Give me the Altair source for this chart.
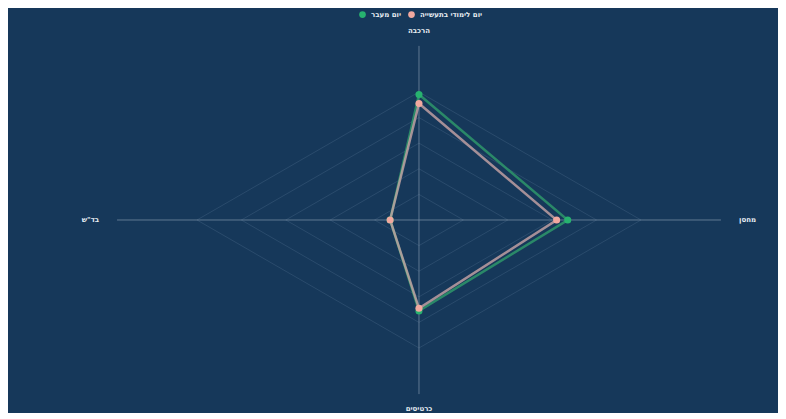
import altair as alt
import pandas as pd

# ---- data ----
categories = ["הרכבה", "מחסן", "כרטיסים", 'בד"ש']
series_names = ["יום מעבר", "יום לימודי בתעשייה"]
green_values = [0.98, 0.67, 0.71, 0.13]
pink_values = [0.91, 0.62, 0.69, 0.13]
grid_levels = [0.2, 0.4, 0.6, 0.8, 1.0]

colors = ["#27b26f", "#f2a89f"]
line_colors = ["#2f9c6c", "#c9a5a6"]

# ---- build tables ----
rows = []
for name, vals in zip(series_names, [green_values, pink_values]):
    for i in range(len(categories) + 1):
        k = i % len(categories)
        rows.append({"series": name, "category": categories[k], "idx": i, "value": vals[k]})
series_df = pd.DataFrame(rows)
pts_df = series_df[series_df["idx"] < len(categories)]

grid_rows = []
for lv in grid_levels:
    for i in range(len(categories) + 1):
        grid_rows.append({"level": lv, "idx": i, "value": lv})
grid_df = pd.DataFrame(grid_rows)

axis_df = pd.DataFrame({"category": categories, "idx": list(range(len(categories)))})

ang = "2*PI*datum.idx/4"
xs = alt.Scale(domain=[-1.851, 1.617], nice=False, zero=False)
ys = alt.Scale(domain=[-1.492, 1.656], nice=False, zero=False)
X = lambda f: alt.X(f, type="quantitative", scale=xs, axis=None)
Y = lambda f: alt.Y(f, type="quantitative", scale=ys, axis=None)

grid = alt.Chart(grid_df).transform_calculate(
    px=f"datum.value*sin({ang})", py=f"datum.value*cos({ang})"
).mark_line(color="#3a5a7a", strokeWidth=0.8, opacity=0.7).encode(
    x=X("px"), y=Y("py"), detail="level:N", order="idx:Q"
)

axes = alt.Chart(axis_df).transform_calculate(
    x0="0", y0="0",
    px=f"1.36*sin({ang})", py=f"1.36*cos({ang})"
).mark_rule(color="#7d93a8", strokeWidth=0.9, opacity=0.8).encode(
    x=X("x0"), y=Y("y0"), x2="px:Q", y2="py:Q"
)

labels = alt.Chart(axis_df).transform_calculate(
    px=f"1.48*sin({ang})", py=f"1.48*cos({ang})"
).mark_text(color="#e8eef4", fontSize=7, font="DejaVu Sans", fontWeight="bold").encode(
    x=X("px"), y=Y("py"), text="category:N"
)

line_scale = alt.Scale(domain=series_names, range=line_colors)
color_scale = alt.Scale(domain=series_names, range=colors)

lines = alt.Chart(series_df).transform_calculate(
    px=f"datum.value*sin({ang})", py=f"datum.value*cos({ang})"
).mark_line(strokeWidth=2.5, opacity=0.8).encode(
    x=X("px"), y=Y("py"), order="idx:Q",
    stroke=alt.Stroke("series:N", scale=line_scale, legend=None),
    detail="series:N"
)

points = alt.Chart(pts_df).transform_calculate(
    px=f"datum.value*sin({ang})", py=f"datum.value*cos({ang})"
).mark_point(filled=True, size=50, opacity=1, shape="circle").encode(
    x=X("px"), y=Y("py"),
    color=alt.Color("series:N", scale=color_scale, sort=series_names,
                    legend=alt.Legend(title=None, orient="none", legendX=350, legendY=2,
                                      direction="horizontal", symbolType="circle",
                                      symbolSize=45, labelFontSize=7, labelColor="#e8eef4",
                                      labelFont="DejaVu Sans", labelFontWeight="bold",
                                      columnPadding=6, symbolOpacity=1)),
    order=alt.Order("series:N", sort="descending")
)

chart = alt.layer(grid, axes, labels, lines, points).resolve_scale(
    color="independent", stroke="independent"
).properties(
    width=770, height=403, background="#16385a", padding=0
).configure_view(stroke=None)

chart.save("out.html", embed_options={"renderer": "svg", "actions": False})
